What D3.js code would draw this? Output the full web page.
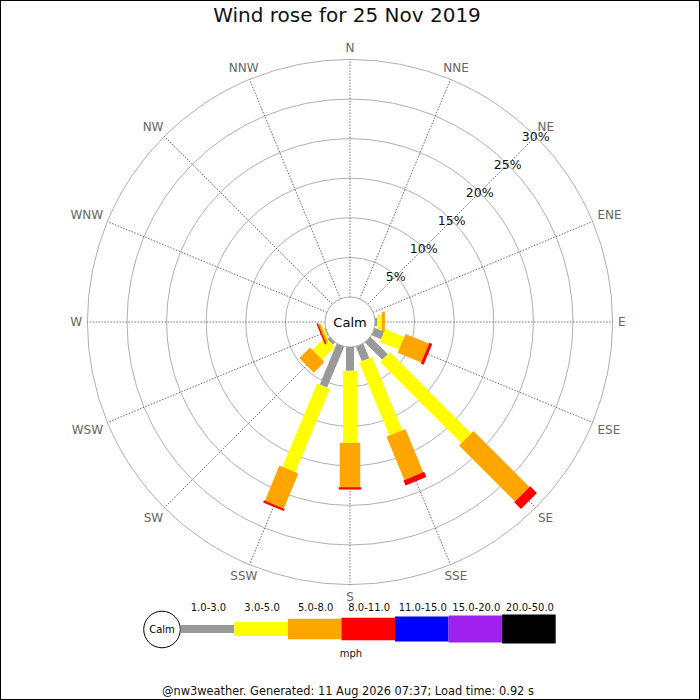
<!DOCTYPE html>
<html>
<head>
<meta charset="utf-8">
<script src="https://cdn.jsdelivr.net/npm/d3@7"></script>
<style>
body { margin: 0; background: #fff; }
text { font-family: "DejaVu Sans", sans-serif; }
</style>
</head>
<body>
<div class="container"></div>
<script>
const WIDTH = 700;
const HEIGHT = 700;
const CX = 350;
const CY = 322;
const CALM_R = 25;
const OUTER_R = 262.6;
const MAX_PCT = 30;

var directions = ["N","NNE","NE","ENE","E","ESE","SE","SSE","S","SSW","SW","WSW","W","WNW","NW","NNW"];
var speedBins = ["1.0-3.0","3.0-5.0","5.0-8.0","8.0-11.0","11.0-15.0","15.0-20.0","20.0-50.0"];
var binColours = ["#999999","#ffff00","#ffa500","#ff0000","#0000ff","#a020f0","#000000"];
var binWidths = [8, 14, 20.5, 22.5, 25, 27, 29];
var ringTicks = [5, 10, 15, 20, 25, 30];

// percent of time per direction, one array per speed bin
var pct1to3   = [0, 0, 0, 0, 0.3, 1.3, 3.1, 2.0, 3.0, 5.6, 0.4, 0.15, 0, 0, 0, 0];
var pct3to5   = [0, 0, 0, 0, 0.55, 2.6, 14.5, 10.0, 9.1, 11.4, 2.3, 0.25, 0, 0, 0, 0];
var pct5to8   = [0, 0, 0, 0, 0.4, 3.2, 10.0, 5.9, 5.6, 4.8, 1.9, 0.25, 0, 0, 0, 0];
var pct8to11  = [0, 0, 0, 0, 0, 0.4, 1.2, 0.7, 0.3, 0.3, 0, 0.2, 0, 0, 0, 0];
var pct11to15 = [0, 0, 0, 0, 0, 0, 0, 0, 0, 0, 0, 0, 0, 0, 0, 0];
var pct15to20 = [0, 0, 0, 0, 0, 0, 0, 0, 0, 0, 0, 0, 0, 0, 0, 0];
var pct20to50 = [0, 0, 0, 0, 0, 0, 0, 0, 0, 0, 0, 0, 0, 0, 0, 0];
var series = [pct1to3, pct3to5, pct5to8, pct8to11, pct11to15, pct15to20, pct20to50];

var titleText = "Wind rose for 25 Nov 2019";
var footerText = "@nw3weather. Generated: 11 Aug 2026 07:37; Load time: 0.92 s";

var translate = function(x, y){
	return "translate(" + x + "," + y + ")";
};

var svg = d3.select('.container').append('svg')
	.attr('width', WIDTH)
	.attr('height', HEIGHT);

svg.append('rect')
	.attr('x', 0.5).attr('y', 0.5)
	.attr('width', WIDTH - 1).attr('height', HEIGHT - 1)
	.attr('fill', '#fff').attr('stroke', '#000');

var rScale = d3.scaleLinear().domain([0, MAX_PCT]).range([CALM_R, OUTER_R]);
var angle = d3.scalePoint().domain(directions).range([0, 337.5]);

svg.append('text')
	.attr('x', 347).attr('y', 22)
	.attr('text-anchor', 'middle')
	.attr('font-size', 20)
	.attr('fill', '#111')
	.text(titleText);

var rose = svg.append('g').attr('transform', translate(CX, CY));

// rings
rose.selectAll('circle.ring').data(ringTicks).enter().append('circle')
	.attr('class', 'ring')
	.attr('r', function(d){ return rScale(d); })
	.attr('fill', 'none')
	.attr('stroke', '#b0b0b0')
	.attr('stroke-width', 1);

// spokes
rose.selectAll('line.spoke').data(directions).enter().append('line')
	.attr('class', 'spoke')
	.attr('transform', function(d){ return "rotate(" + angle(d) + ")"; })
	.attr('x1', 0).attr('y1', -rScale(0))
	.attr('x2', 0).attr('y2', -rScale(MAX_PCT))
	.attr('stroke', '#555')
	.attr('stroke-width', 0.8)
	.attr('stroke-dasharray', '1.5,1.5');

// compass labels
rose.selectAll('text.dir').data(directions).enter().append('text')
	.attr('class', 'dir')
	.attr('font-size', 12)
	.attr('fill', '#666')
	.attr('text-anchor', 'middle')
	.attr('dy', '0.36em')
	.text(function(d){ return d; })
	.each(function(d){
		var a = angle(d) * Math.PI / 180;
		var s = Math.sin(a), c = Math.cos(a);
		if (Math.abs(c) < 1e-9) c = 0;
		var w = this.getComputedTextLength();
		var r = 268 + (w / 2) * Math.abs(s) + 4.5 * Math.abs(c);
		var y = -(270 * c + 4.5 * Math.sign(c));
		d3.select(this).attr('x', r * s).attr('y', y);
	});

// stacked bars
var stacked = directions.map(function(dir, i){
	var start = 0;
	return series.map(function(s, b){
		var seg = {dir: dir, bin: b, from: start, to: start + s[i]};
		start += s[i];
		return seg;
	}).filter(function(seg){ return seg.to > seg.from; });
});

var dirGroups = rose.selectAll('g.dirbar').data(stacked).enter().append('g')
	.attr('class', 'dirbar')
	.attr('transform', function(d, i){ return "rotate(" + angle(directions[i]) + ")"; });

dirGroups.selectAll('rect').data(function(d){ return d; }).enter().append('rect')
	.attr('x', function(d){ return -binWidths[d.bin] / 2; })
	.attr('width', function(d){ return binWidths[d.bin]; })
	.attr('y', function(d){ return -rScale(d.to); })
	.attr('height', function(d){ return rScale(d.to) - rScale(d.from); })
	.attr('fill', function(d){ return binColours[d.bin]; });

// ring percentage labels along NE
rose.selectAll('text.pct').data(ringTicks).enter().append('text')
	.attr('class', 'pct')
	.attr('x', function(d){ return rScale(d) * Math.SQRT1_2; })
	.attr('y', function(d){ return -rScale(d) * Math.SQRT1_2; })
	.attr('dy', '0.36em')
	.attr('text-anchor', 'middle')
	.attr('font-size', 12.5)
	.attr('fill', '#111')
	.text(function(d){ return d + "%"; });

// calm
rose.append('circle')
	.attr('r', CALM_R)
	.attr('fill', '#fff')
	.attr('stroke', '#aaa');
rose.append('text')
	.attr('text-anchor', 'middle')
	.attr('dy', '0.36em')
	.attr('font-size', 13)
	.attr('fill', '#000')
	.text("Calm");

// legend
var LEG_Y = 629;
var legX = d3.scaleBand().domain(speedBins).range([180.7, 555.7]);
var legend = svg.append('g');

legend.append('circle')
	.attr('cx', 162).attr('cy', LEG_Y + 0.5).attr('r', 18.3)
	.attr('fill', '#fff').attr('stroke', '#000');
legend.append('text')
	.attr('x', 162).attr('y', LEG_Y + 0.5)
	.attr('dy', '0.36em')
	.attr('text-anchor', 'middle')
	.attr('font-size', 10)
	.text("Calm");

legend.selectAll('rect').data(speedBins).enter().append('rect')
	.attr('x', function(d){ return legX(d); })
	.attr('width', legX.bandwidth())
	.attr('y', function(d, i){ return LEG_Y - binWidths[i] / 2; })
	.attr('height', function(d, i){ return binWidths[i]; })
	.attr('fill', function(d, i){ return binColours[i]; });

legend.selectAll('text.bin').data(speedBins).enter().append('text')
	.attr('class', 'bin')
	.attr('x', function(d){ return legX(d) + legX.bandwidth() / 2 + 1; })
	.attr('y', 611)
	.attr('text-anchor', 'middle')
	.attr('font-size', 10)
	.attr('fill', '#111')
	.text(function(d){ return d; });

legend.append('text')
	.attr('x', 351).attr('y', 657)
	.attr('text-anchor', 'middle')
	.attr('font-size', 10)
	.attr('fill', '#111')
	.text("mph");

svg.append('text')
	.attr('x', 348).attr('y', 695)
	.attr('text-anchor', 'middle')
	.attr('font-size', 11.4)
	.attr('fill', '#111')
	.text(footerText);
</script>
</body>
</html>
